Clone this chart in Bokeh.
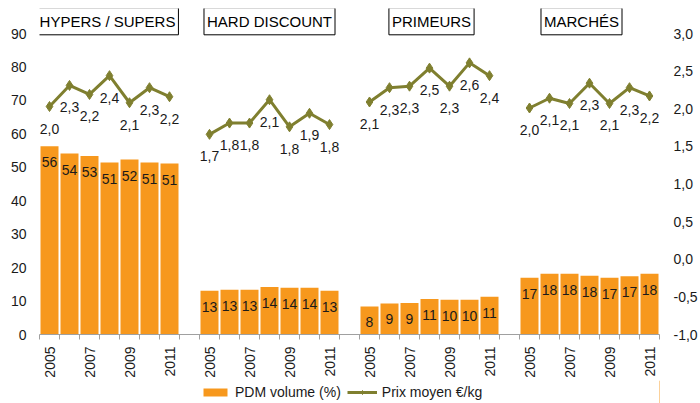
import math
from bokeh.plotting import figure
from bokeh.layouts import column
from bokeh.models import (Range1d, LinearAxis, FixedTicker, CustomJSTickFormatter,
                          Label, Legend, LegendItem, ColumnDataSource)
from bokeh.embed import file_html
from bokeh.resources import INLINE
from bokeh.core.properties import value

# ---------------- data ----------------
groups = ["HYPERS / SUPERS", "HARD DISCOUNT", "PRIMEURS", "MARCHÉS"]
years = ["2005", "2006", "2007", "2008", "2009", "2010", "2011"]
year_labels_shown = ["2005", "2007", "2009", "2011"]

pdm_hypers = [56.3, 54.1, 53.4, 51.4, 52.3, 51.4, 51.1]
pdm_hard = [13.1, 13.4, 13.4, 14.2, 14.0, 14.0, 13.1]
pdm_primeurs = [8.4, 9.3, 9.4, 10.6, 10.4, 10.4, 11.3]
pdm_marches = [17.0, 18.2, 18.2, 17.6, 17.0, 17.4, 18.2]

prix_hypers = [2.03, 2.31, 2.19, 2.44, 2.08, 2.28, 2.16]
prix_hard = [1.66, 1.81, 1.81, 2.12, 1.76, 1.94, 1.79]
prix_primeurs = [2.09, 2.28, 2.30, 2.54, 2.30, 2.61, 2.44]
prix_marches = [2.01, 2.14, 2.07, 2.34, 2.07, 2.28, 2.17]

left_ticks = [0, 10, 20, 30, 40, 50, 60, 70, 80, 90]
right_ticks = [-1.0, -0.5, 0.0, 0.5, 1.0, 1.5, 2.0, 2.5, 3.0]

legend_labels = ["PDM volume (%)", "Prix moyen €/kg"]

pdm_all = [pdm_hypers, pdm_hard, pdm_primeurs, pdm_marches]
prix_all = [prix_hypers, prix_hard, prix_primeurs, prix_marches]

# ---------------- styling ----------------
FONT = "Liberation Sans"
BAR_COLOR = "#F7981D"
LINE_COLOR = "#7F7F2F"
TEXT_COLOR = "#1a1a1a"
AXIS_GRAY = "#a0a0a0"
title_shift = [-0.1, 0.0, 0.1, -0.4]   # small horizontal nudges of title boxes (in slots)

slots = len(years) + 1
n_slots = slots * len(groups) - 1
y_top_left = 97.48
left_max, right_min, right_max = 90.0, -1.0, 3.0
scale = (right_max - right_min) / left_max
y_top_right = right_min + y_top_left * scale

p = figure(width=700, height=380, output_backend="svg", toolbar_location=None,
           x_range=Range1d(-0.5, n_slots - 0.5), y_range=Range1d(0, y_top_left),
           min_border_left=39, min_border_right=41, min_border_top=8,
           min_border_bottom=46, outline_line_color=None)
p.extra_y_ranges = {"prix": Range1d(right_min, y_top_right)}
p.xgrid.visible = False
p.ygrid.visible = False
p.background_fill_color = "white"
p.border_fill_color = "white"

# left axis
ya = p.yaxis[0]
ya.ticker = FixedTicker(ticks=left_ticks)
ya.axis_line_color = None
ya.major_tick_line_color = None
ya.minor_tick_line_color = None
ya.major_tick_out = 0
ya.major_tick_in = 0
ya.major_label_standoff = 13
ya.major_label_text_font = FONT
ya.major_label_text_font_size = "14px"
ya.major_label_text_color = TEXT_COLOR

# right axis
ra = LinearAxis(y_range_name="prix", ticker=FixedTicker(ticks=right_ticks),
                formatter=CustomJSTickFormatter(code="return tick.toFixed(1).replace('.', ',');"))
ra.axis_line_color = None
ra.major_tick_line_color = None
ra.minor_tick_line_color = None
ra.major_tick_out = 0
ra.major_tick_in = 0
ra.major_label_standoff = 14
ra.major_label_text_font = FONT
ra.major_label_text_font_size = "14px"
ra.major_label_text_color = TEXT_COLOR
p.add_layout(ra, "right")

# bottom axis
label_pos = []
overrides = {}
for g in range(len(groups)):
    for k, yr in enumerate(years):
        if yr in year_labels_shown:
            pos = g * slots + k
            label_pos.append(pos)
            overrides[pos] = yr
boundaries = [i - 0.5 for i in range(n_slots + 1)]
xa = p.xaxis[0]
xa.ticker = FixedTicker(ticks=label_pos, minor_ticks=boundaries)
xa.major_label_overrides = overrides
xa.major_label_orientation = math.pi / 2
xa.axis_line_color = AXIS_GRAY
xa.major_tick_line_color = None
xa.major_tick_out = 5
xa.major_tick_in = 0
xa.minor_tick_line_color = AXIS_GRAY
xa.minor_tick_out = 5
xa.minor_tick_in = 0
xa.major_label_standoff = 7
xa.major_label_text_font = FONT
xa.major_label_text_font_size = "14px"
xa.major_label_text_color = TEXT_COLOR

# bars
bx, btop, blab = [], [], []
for g, vals in enumerate(pdm_all):
    for k, v in enumerate(vals):
        bx.append(g * slots + k)
        btop.append(v)
        blab.append("%d" % int(v + 0.5))
bsrc = ColumnDataSource(dict(x=bx, top=btop, lab=blab))
p.vbar(x="x", top="top", width=0.9, source=bsrc, fill_color=BAR_COLOR, line_color=None)
p.text(x="x", y="top", text="lab", source=bsrc, text_align="center", text_baseline="middle",
       y_offset=16, text_font=value(FONT), text_font_size="14px", text_color=TEXT_COLOR)

# lines
for g, vals in enumerate(prix_all):
    xs = [g * slots + k for k in range(len(vals))]
    labs = [("%.1f" % v).replace(".", ",") for v in vals]
    src = ColumnDataSource(dict(x=xs, y=vals, lab=labs))
    p.line(x="x", y="y", source=src, y_range_name="prix", line_color=LINE_COLOR, line_width=3)
    p.scatter(x="x", y="y", source=src, y_range_name="prix", marker="diamond", size=10,
              fill_color=LINE_COLOR, line_color=LINE_COLOR)
    p.text(x="x", y="y", text="lab", source=src, y_range_name="prix", text_align="center",
           text_baseline="middle", y_offset=22, text_font=value(FONT), text_font_size="14px",
           text_color=TEXT_COLOR)

# group titles
title_y = left_max + 3.65
for g, name in enumerate(groups):
    p.add_layout(Label(x=g * slots + (len(years) - 1) / 2 + title_shift[g], y=title_y, text=name,
                       text_align="center", text_baseline="middle", text_font=FONT,
                       text_font_size="15px", text_color="black",
                       border_line_color="black", border_line_width=1,
                       background_fill_color="white", padding=(3, 5)))

# legend strip (separate small figure below)
pl = figure(width=700, height=23, output_backend="svg", toolbar_location=None,
            x_range=Range1d(0, 1), y_range=Range1d(0, 1), min_border=0,
            outline_line_color=None, x_axis_location=None, y_axis_location=None)
pl.xgrid.visible = False
pl.ygrid.visible = False
dummy = ColumnDataSource(dict(x=[5.0, 6.0], y=[5.0, 6.0]))
lb = pl.vbar(x="x", top="y", width=0.5, source=dummy, fill_color=BAR_COLOR, line_color=None)
ll = pl.line(x="x", y="y", source=dummy, line_color=LINE_COLOR, line_width=3)
ls = pl.scatter(x="x", y="y", source=dummy, marker="diamond", size=9,
                fill_color=LINE_COLOR, line_color=LINE_COLOR)
legend = Legend(items=[LegendItem(label=legend_labels[0], renderers=[lb]),
                       LegendItem(label=legend_labels[1], renderers=[ll, ls])],
                orientation="horizontal", location=(161, 3), glyph_width=30, glyph_height=10,
                label_standoff=5, spacing=6, padding=0, margin=0, border_line_color=None,
                background_fill_alpha=0, label_text_font=FONT, label_text_font_size="14px",
                label_text_color=TEXT_COLOR, label_height=14)
pl.add_layout(legend, "center")

layout = column(p, pl, spacing=0)
open("out.html", "w").write(file_html(layout, INLINE))
